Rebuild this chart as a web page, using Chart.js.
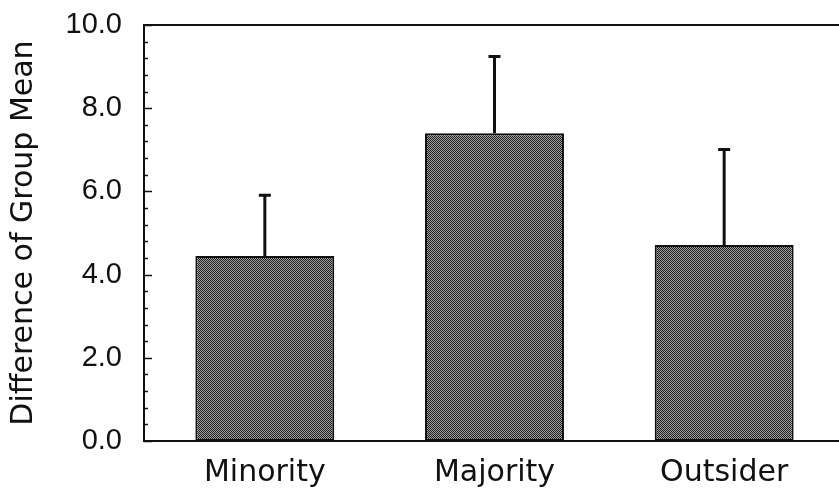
<!DOCTYPE html>
<html>
<head>
<meta charset="utf-8">
<script src="https://cdn.jsdelivr.net/npm/chart.js@4.4.0/dist/chart.umd.min.js"></script>
<style>
    html, body { margin: 0; padding: 0; background: #fff; }
    #wrap { width: 839px; height: 495px; }
</style>
</head>
<body>
<div id="wrap"><canvas id="chart" width="839" height="495"></canvas></div>
<script>
// values
const groups = ['Minority', 'Majority', 'Outsider'];
const groupMeans = [4.45, 7.40, 4.71];
const groupErrors = [1.46, 1.84, 2.30];
const yTickLabels = ['0.0', '2.0', '4.0', '6.0', '8.0', '10.0'];
const yTitle = 'Difference of Group Mean';

// dense grey screen like the printed bars
function makeScreen() {
    const c = document.createElement('canvas');
    c.width = 2;
    c.height = 2;
    const g = c.getContext('2d');
    g.fillStyle = '#a2a2a2';
    g.fillRect(0, 0, 2, 2);
    g.fillStyle = '#1c1c1c';
    g.fillRect(0, 0, 1, 1);
    g.fillRect(1, 1, 1, 1);
    return g.createPattern(c, 'repeat');
}

const errorBars = {
    id: 'errorBars',
    afterDatasetsDraw(chart) {
        const ctx = chart.ctx;
        const y = chart.scales.y;
        const meta = chart.getDatasetMeta(0);
        ctx.save();
        ctx.strokeStyle = '#111';
        ctx.lineWidth = 3;
        meta.data.forEach((bar, i) => {
            const top = y.getPixelForValue(groupMeans[i] + groupErrors[i]);
            const base = y.getPixelForValue(groupMeans[i]);
            ctx.beginPath();
            ctx.moveTo(bar.x, base);
            ctx.lineTo(bar.x, top);
            ctx.moveTo(bar.x - 6, top);
            ctx.lineTo(bar.x + 6, top);
            ctx.stroke();
        });
        ctx.restore();
    }
};

// axis frame with inward ticks, placed a little left of the first category
const frame = {
    id: 'frame',
    afterDraw(chart) {
        const ctx = chart.ctx;
        const y = chart.scales.y;
        const area = chart.chartArea;
        const ax = area.left - 6;
        ctx.save();
        ctx.strokeStyle = '#111';
        ctx.lineWidth = 2;
        ctx.beginPath();
        ctx.moveTo(chart.width, area.top);
        ctx.lineTo(ax, area.top);
        ctx.lineTo(ax, area.bottom);
        ctx.lineTo(chart.width, area.bottom);
        ctx.stroke();
        ctx.lineWidth = 1.5;
        const step = y.options.ticks.stepSize;
        for (let v = y.min; v <= y.max + 1e-9; v += step / 5) {
            const py = Math.round(y.getPixelForValue(v)) + 0.5;
            const major = Math.abs(v / step - Math.round(v / step)) < 1e-6;
            ctx.beginPath();
            ctx.moveTo(ax, py);
            ctx.lineTo(ax + (major ? 8 : 4), py);
            ctx.stroke();
        }
        ctx.restore();
    }
};

new Chart(document.getElementById('chart'), {
    type: 'bar',
    data: {
        labels: groups,
        datasets: [
            {
                data: groupMeans,
                backgroundColor: makeScreen(),
                borderColor: '#111',
                borderWidth: 2,
                borderSkipped: false,
                barPercentage: 0.605,
                categoryPercentage: 1
            }
        ]
    },
    options: {
        responsive: false,
        animation: false,
        devicePixelRatio: 1,
        layout: { padding: { top: 25, right: 0, left: 0, bottom: 0 } },
        plugins: {
            legend: { display: false },
            tooltip: { enabled: false }
        },
        scales: {
            x: {
                grid: { display: false, drawTicks: false },
                border: { display: false },
                ticks: {
                    color: '#111',
                    padding: 14,
                    font: { family: 'DejaVu Sans', size: 30 }
                },
                afterFit(scale) {
                    scale.height = 54;
                    scale.paddingLeft = 0;
                    scale.paddingRight = 0;
                }
            },
            y: {
                min: 0,
                max: 10,
                grid: { display: false, drawTicks: false },
                border: { display: false },
                ticks: {
                    stepSize: 2,
                    color: '#111',
                    padding: 28,
                    font: { family: 'Liberation Sans', size: 29 },
                    callback: (v, i) => yTickLabels[i]
                },
                title: {
                    display: true,
                    text: yTitle,
                    color: '#111',
                    padding: { top: 6, bottom: 0 },
                    font: { family: 'DejaVu Sans', size: 30 }
                },
                afterFit(scale) {
                    scale.width = 150;
                    scale.paddingTop = 0;
                    scale.paddingBottom = 0;
                }
            }
        }
    },
    plugins: [errorBars, frame]
});
</script>
</body>
</html>
